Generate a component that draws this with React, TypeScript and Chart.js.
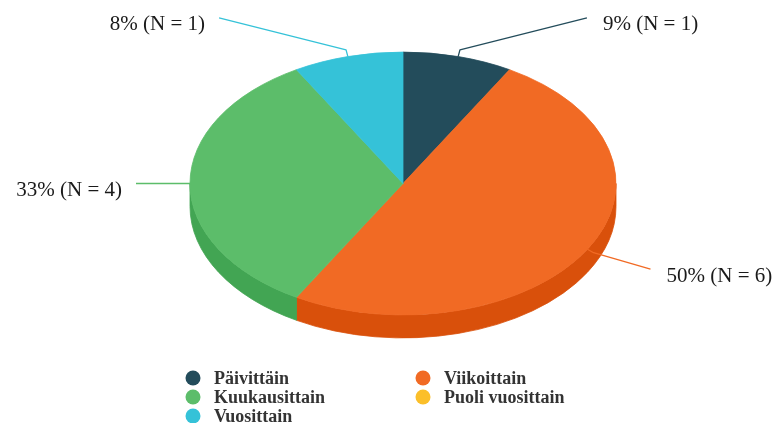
import { useEffect, useRef } from "react";
import { Chart, registerables } from "chart.js";

Chart.register(...registerables);

const categories = ["Päivittäin", "Viikoittain", "Kuukausittain", "Puoli vuosittain", "Vuosittain"];
const counts = [1, 6, 4, 0, 1];
const topColors = ["#234C5B", "#F16A24", "#5CBD6A", "#FBBF2A", "#35C2D8"];
const sideColors = ["#1A3A46", "#D9500B", "#42A553", "#E0A51C", "#27A5BA"];

const W = 773;
const H = 423;
const TILT = 0.617;
const DEPTH = 23;
const SERIF = '"Liberation Serif", "Times New Roman", serif';

function percentLabels(values: number[]): number[] {
  const total = values.reduce((a, b) => a + b, 0);
  const raw = values.map((v) => (v / total) * 100);
  const floors = raw.map((r) => Math.floor(r));
  let rest = 100 - floors.reduce((a, b) => a + b, 0);
  const order = raw
    .map((r, i) => ({ i, rem: r - Math.floor(r) }))
    .sort((a, b) => b.rem - a.rem || a.i - b.i);
  for (const o of order) {
    if (rest <= 0) break;
    floors[o.i] += 1;
    rest -= 1;
  }
  return floors;
}

const pie3d = {
  id: "pie3d",
  beforeDatasetsDraw(chart: any) {
    const ctx = chart.ctx;
    const meta = chart.getDatasetMeta(0);
    const arcs = meta.data;
    if (!arcs.length) return;
    const { x, y, outerRadius } = arcs[0];
    const rx = outerRadius;
    const ry = outerRadius * TILT;
    ctx.save();
    arcs.forEach((arc: any, i: number) => {
      if (!counts[i]) return;
      const lo = Math.max(arc.startAngle, 0);
      const hi = Math.min(arc.endAngle, Math.PI);
      if (hi <= lo) return;
      ctx.beginPath();
      ctx.ellipse(x, y, rx, ry, 0, lo, hi);
      ctx.ellipse(x, y + DEPTH, rx, ry, 0, hi, lo, true);
      ctx.closePath();
      ctx.fillStyle = sideColors[i];
      ctx.strokeStyle = sideColors[i];
      ctx.lineWidth = 0.8;
      ctx.fill();
      ctx.stroke();
    });
    ctx.restore();
    ctx.save();
    ctx.translate(x, y);
    ctx.scale(1, TILT);
    ctx.translate(-x, -y);
  },
  afterDatasetsDraw(chart: any) {
    chart.ctx.restore();
  },
  afterDraw(chart: any) {
    const ctx = chart.ctx;
    const meta = chart.getDatasetMeta(0);
    const arcs = meta.data;
    if (!arcs.length) return;
    const { x, y, outerRadius } = arcs[0];
    const rx = outerRadius;
    const ry = outerRadius * TILT;
    const pcts = percentLabels(counts);
    const A = rx + 54;
    const B = ry + 97;
    const YF = ry + 40;
    ctx.save();
    arcs.forEach((arc: any, i: number) => {
      if (!counts[i]) return;
      const m = (arc.startAngle + arc.endAngle) / 2;
      const c = Math.cos(m);
      const s = Math.sin(m);
      const px = x + rx * c;
      const py = y + ry * s;
      const p2x = px + 7 * c;
      const p2y = py + 7 * s;
      const dy = YF * s;
      const right = c >= 0;
      const dx = A * Math.sqrt(Math.max(0, 1 - (dy / B) * (dy / B)));
      const ex = x + (right ? dx : -dx);
      const ey = y + dy;
      ctx.beginPath();
      ctx.moveTo(px, py);
      ctx.lineTo(p2x, p2y);
      ctx.lineTo(ex, ey);
      ctx.strokeStyle = topColors[i];
      ctx.lineWidth = 1.3;
      ctx.lineJoin = "round";
      ctx.stroke();
      ctx.font = `21px ${SERIF}`;
      ctx.fillStyle = "#1a1a1a";
      ctx.textBaseline = "middle";
      ctx.textAlign = right ? "left" : "right";
      ctx.fillText(`${pcts[i]}% (N = ${counts[i]})`, right ? ex + 16 : ex - 14, ey + 7);
    });
    // legend
    const colX = [193, 423];
    const rowY = [378, 397, 416];
    categories.forEach((name, i) => {
      const cx = colX[i % 2];
      const cy = rowY[Math.floor(i / 2)];
      ctx.beginPath();
      ctx.arc(cx, cy, 7.5, 0, Math.PI * 2);
      ctx.fillStyle = topColors[i];
      ctx.fill();
      ctx.font = `bold 18px ${SERIF}`;
      ctx.fillStyle = "#333333";
      ctx.textAlign = "left";
      ctx.textBaseline = "middle";
      ctx.fillText(name, cx + 21, cy + 1);
    });
    ctx.restore();
  },
};

export default function App() {
  const canvasRef = useRef<HTMLCanvasElement | null>(null);
  useEffect(() => {
    document.body.style.margin = "0";
    const canvas = canvasRef.current;
    if (!canvas) return;
    const chart = new Chart(canvas, {
      type: "pie",
      data: {
        labels: categories,
        datasets: [
          {
            data: counts,
            backgroundColor: topColors,
            borderColor: topColors,
            borderWidth: 1,
            clip: false,
          } as any,
        ],
      },
      options: {
        responsive: true,
        maintainAspectRatio: false,
        animation: false,
        radius: 213,
        layout: { padding: { left: 33, right: 0, top: 0, bottom: 56 } },
        plugins: {
          legend: { display: false },
          tooltip: { enabled: false },
          title: { display: false },
        },
        events: [],
      } as any,
      plugins: [pie3d],
    });
    return () => chart.destroy();
  }, []);
  return (
    <div style={{ position: "fixed", left: 0, top: 0, width: W, height: H, background: "#ffffff" }}>
      <canvas ref={canvasRef} />
    </div>
  );
}
